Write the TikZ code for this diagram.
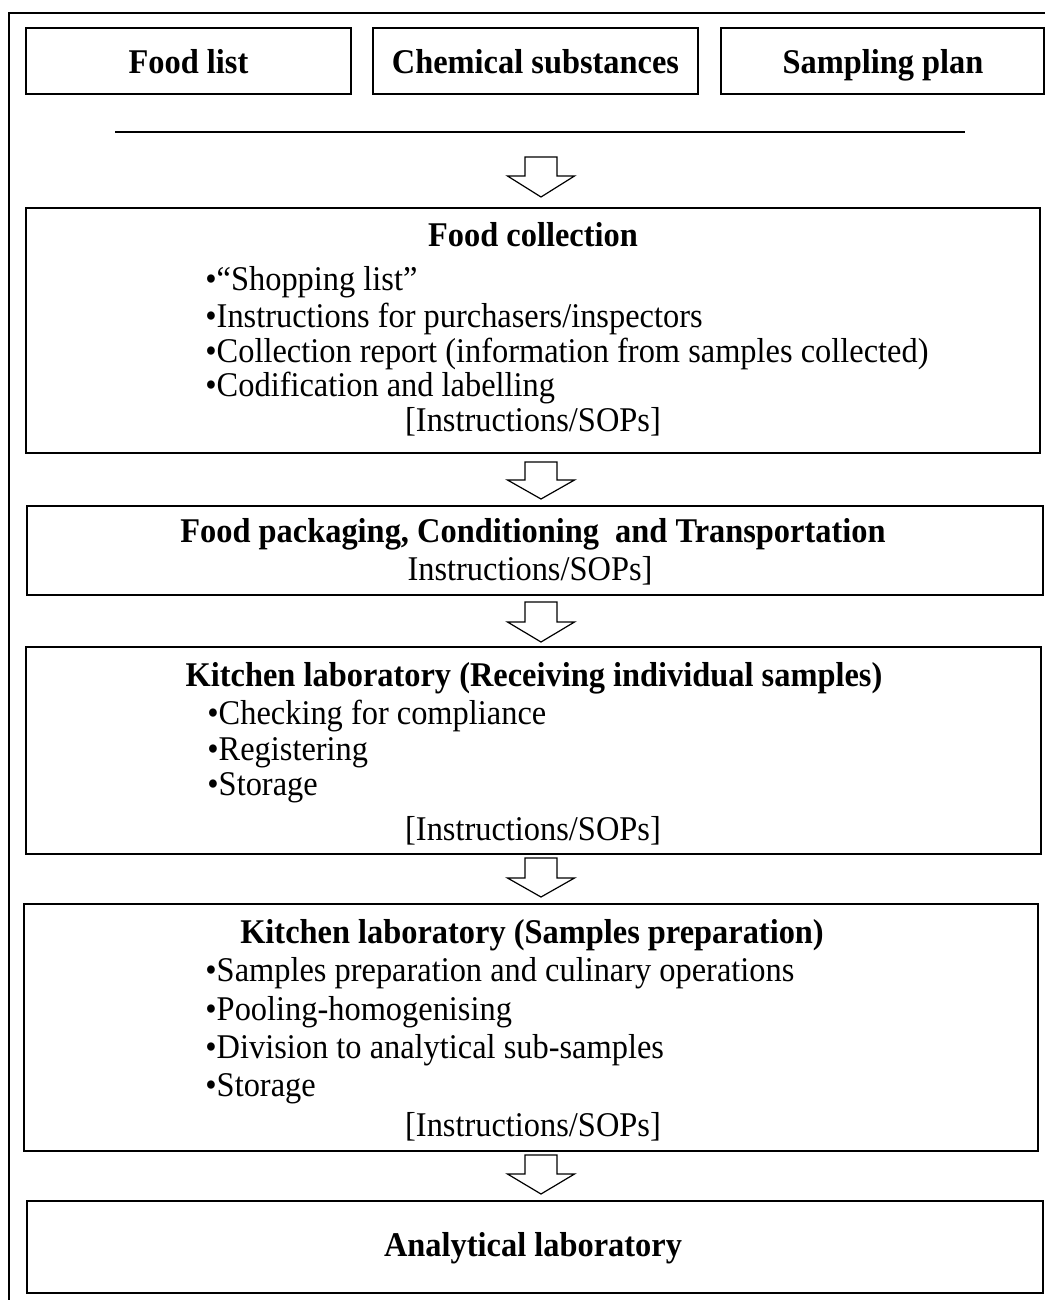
\documentclass[tikz,border=0pt]{standalone}
\usepackage{fontspec}
\setmainfont{Liberation Serif}
\usetikzlibrary{fit}
\newcommand\flowarrow[4]{%
  \draw[flow] (#1-16,#2) -- (#1+16,#2) -- (#1+16,#3) -- (#1+33.5,#3) -- (#1,#4)
    -- (#1-33.5,#3) -- (#1-16,#3) -- cycle;}
\begin{document}
\begin{tikzpicture}[x=0.5pt,y=-0.5pt,
  box/.style={draw, line width=0.8pt, inner sep=0pt},
  txt/.style={inner sep=0pt, yscale=1.07, transform shape, font=\fontsize{16.2pt}{17.5pt}\selectfont},
  ttl/.style={inner sep=0pt, yscale=1.07, transform shape, font=\fontsize{16.2pt}{17.5pt}\selectfont\bfseries},
  flow/.style={draw, line width=0.6pt, fill=white, line join=miter},
  frame/.style={line width=1pt}]
\useasboundingbox (0,0) rectangle (1045,1300);

% outer frame (left and top only)
\draw[frame] (9,1300) -- (9,13) -- (1045,13);

% top boxes
\node[box, fit={(26,28) (351,94)}] (foodlist) {};
\node[box, fit={(373,28) (698,94)}] (chem) {};
\node[box, fit={(721,28) (1044,94)}] (sampling) {};
\node[ttl, anchor=base] (foodlistT) at (188.5,74) {Food list};
\node[ttl, anchor=base] (chemT) at (535.5,74) {Chemical substances};
\node[ttl, anchor=base] (samplingT) at (883,74) {Sampling plan};

% horizontal rule
\draw[frame] (115,132) -- (965,132);

% arrow 1
\flowarrow{541}{157}{176}{197}

% Food collection
\node[box, fit={(26,208) (1040,453)}] (collect) {};
\node[ttl, anchor=base] (collectT) at (533,247) {Food collection};
\node[txt, anchor=base west] (c1) at (205,291) {•“Shopping list”};
\node[txt, anchor=base west] (c2) at (205,327) {•Instructions for purchasers/inspectors};
\node[txt, anchor=base west] (c3) at (205,362) {•Collection report (information from samples collected)};
\node[txt, anchor=base west] (c4) at (205,396) {•Codification and labelling};
\node[txt, anchor=base] (c5) at (533,431) {[Instructions/SOPs]};

% arrow 2
\flowarrow{541}{462}{480}{499}

% Food packaging
\node[box, fit={(27,506) (1043,595)}] (pack) {};
\node[ttl, anchor=base] (packT) at (533,542) {Food packaging, Conditioning\ \ and Transportation};
\node[txt, anchor=base] (p1) at (530,580) {Instructions/SOPs]};

% arrow 3
\flowarrow{541}{602}{622}{642}

% Kitchen laboratory 1
\node[box, fit={(26,647) (1041,854)}] (kitchenA) {};
\node[ttl, anchor=base] (kitchenAT) at (534,686) {Kitchen laboratory (Receiving individual samples)};
\node[txt, anchor=base west] (k1) at (207,724) {•Checking for compliance};
\node[txt, anchor=base west] (k2) at (207,760) {•Registering};
\node[txt, anchor=base west] (k3) at (207,795) {•Storage};
\node[txt, anchor=base] (k4) at (533,840) {[Instructions/SOPs]};

% arrow 4
\flowarrow{541}{858}{878}{897}

% Kitchen laboratory 2
\node[box, fit={(24,904) (1038,1151)}] (kitchenB) {};
\node[ttl, anchor=base] (kitchenBT) at (532,943) {Kitchen laboratory (Samples preparation)};
\node[txt, anchor=base west] (s1) at (205,981) {•Samples preparation and culinary operations};
\node[txt, anchor=base west] (s2) at (205,1020) {•Pooling-homogenising};
\node[txt, anchor=base west] (s3) at (205,1058) {•Division to analytical sub-samples};
\node[txt, anchor=base west] (s4) at (205,1096) {•Storage};
\node[txt, anchor=base] (s5) at (533,1136) {[Instructions/SOPs]};

% arrow 5
\flowarrow{541}{1155}{1174}{1194}

% Analytical laboratory
\node[box, fit={(27,1201) (1043,1293)}] (analyt) {};
\node[ttl, anchor=base] (analytT) at (533,1256) {Analytical laboratory};
\end{tikzpicture}
\end{document}
